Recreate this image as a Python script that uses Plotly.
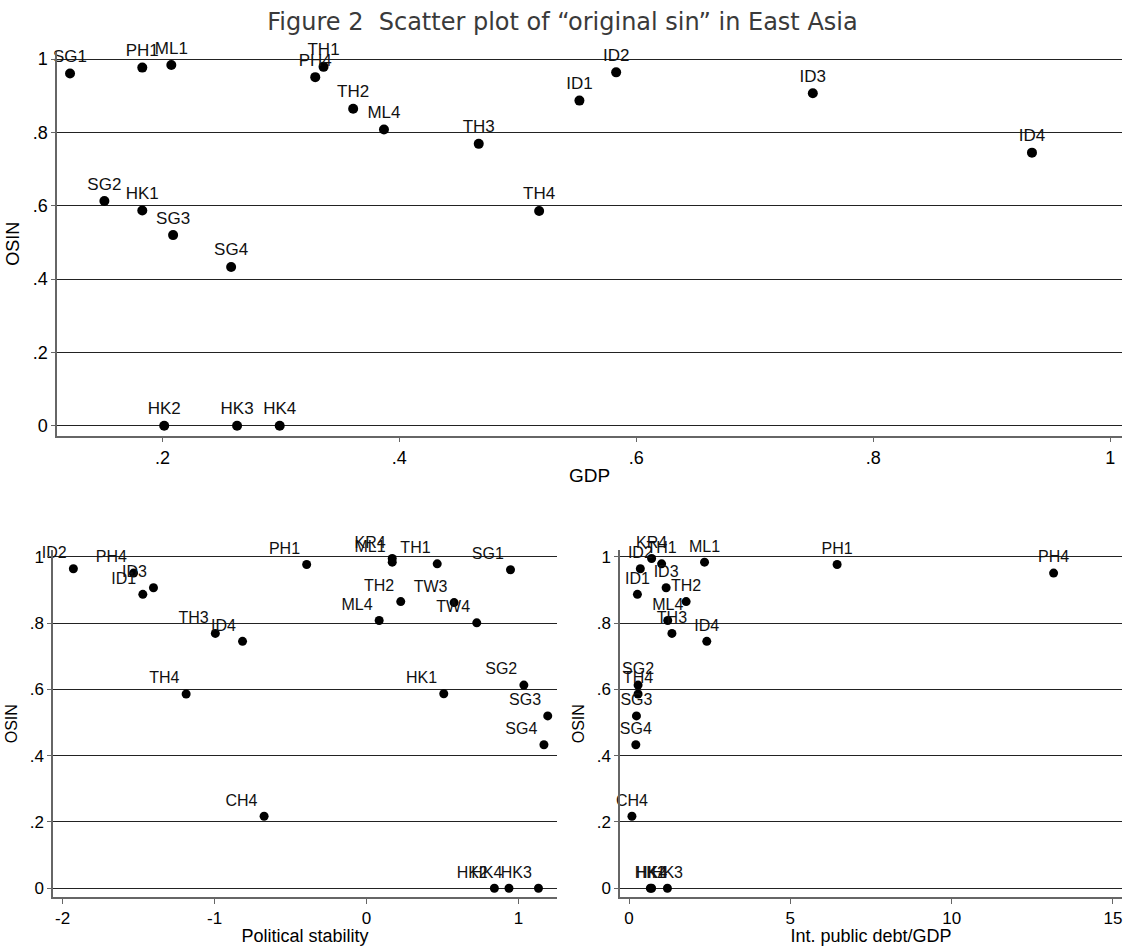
import plotly.graph_objects as go

# ---------------- data ----------------
codes = ["SG1", "SG2", "SG3", "SG4", "HK1", "HK2", "HK3", "HK4",
         "PH1", "PH4", "ML1", "ML4", "TH1", "TH2", "TH3", "TH4",
         "ID1", "ID2", "ID3", "ID4", "KR4", "TW3", "TW4", "CH4"]
osin = [0.961, 0.613, 0.520, 0.433, 0.587, 0.0, 0.0, 0.0,
        0.977, 0.951, 0.984, 0.808, 0.979, 0.865, 0.769, 0.586,
        0.887, 0.964, 0.907, 0.745, 0.995, 0.862, 0.801, 0.217]
gdp = [0.122, 0.151, 0.209, 0.258, 0.183, 0.2015, 0.263, 0.299,
       0.183, 0.329, 0.2075, 0.387, 0.336, 0.361, 0.467, 0.518,
       0.552, 0.583, 0.749, 0.934, None, None, None, None]
polstab = [0.947, 1.035, 1.192, 1.167, 0.508, 0.841, 1.131, 0.937,
           -0.394, -1.533, 0.169, 0.083, 0.465, 0.225, -0.995, -1.187,
           -1.472, -1.929, -1.402, -0.816, 0.169, 0.576, 0.725, -0.674]
debt = [None, 0.28, 0.23, 0.21, None, 0.66, 1.19, 0.70,
        6.45, 13.16, 2.34, 1.20, 1.01, 1.77, 1.33, 0.28,
        0.26, 0.35, 1.15, 2.41, 0.70, None, None, 0.09]

y_ticks = [0, 0.2, 0.4, 0.6, 0.8, 1.0]
y_ticktext = ["0", ".2", ".4", ".6", ".8", "1"]
gdp_ticks = [0.2, 0.4, 0.6, 0.8, 1.0]
gdp_ticktext = [".2", ".4", ".6", ".8", "1"]
ps_ticks = [-2, -1, 0, 1]
ps_ticktext = ["-2", "-1", "0", "1"]
debt_ticks = [0, 5, 10, 15]
debt_ticktext = ["0", "5", "10", "15"]

title_text = "Figure 2  Scatter plot of \u201coriginal sin\u201d in East Asia"


def subset(xvals):
    xs, ys, ts = [], [], []
    for c, o, x in zip(codes, osin, xvals):
        if x is not None:
            xs.append(x)
            ys.append(o)
            ts.append(c)
    return xs, ys, ts


FONT = "Liberation Sans"
fig = go.Figure()

panels = [
    (gdp, "x", "y", "top center", 10, 17),
    (polstab, "x2", "y2", "top left", 9, 16),
    (debt, "x3", "y3", "top center", 9, 16),
]
for xv, xa, ya, pos, msize, fsize in panels:
    xs, ys, ts = subset(xv)
    fig.add_trace(go.Scatter(
        x=xs, y=ys, text=ts, mode="markers+text", xaxis=xa, yaxis=ya,
        textposition=pos, cliponaxis=False,
        marker=dict(color="black", size=msize),
        textfont=dict(family=FONT, size=fsize, color="#111"),
        showlegend=False, hoverinfo="skip"))

AXCOL = "#666"
GRIDCOL = "#222"


def yaxis_def(domain, anchor, tsize, ttsize):
    return dict(domain=domain, anchor=anchor, range=[-0.027, 1.02],
                tickvals=y_ticks, ticktext=y_ticktext, showgrid=True,
                gridcolor=GRIDCOL, gridwidth=1.3, zeroline=False,
                showline=True, linecolor=AXCOL, linewidth=1.5,
                ticks="outside", ticklen=4, tickcolor=AXCOL,
                tickfont=dict(family=FONT, size=tsize, color="black"),
                title=dict(text="OSIN", font=dict(family=FONT, size=ttsize, color="black"),
                           standoff=8))


def xaxis_def(domain, anchor, rng, tv, tt, title, tsize, ttsize):
    return dict(domain=domain, anchor=anchor, range=rng, tickvals=tv,
                ticktext=tt, showgrid=False, zeroline=False, showline=True,
                linecolor=AXCOL, linewidth=1.5, ticks="outside", ticklen=5,
                tickcolor=AXCOL,
                tickfont=dict(family=FONT, size=tsize, color="black"),
                title=dict(text=title, font=dict(family=FONT, size=ttsize, color="black"),
                           standoff=2))


W, H = 1125, 946
fig.update_layout(
    width=W, height=H, margin=dict(l=0, r=0, t=0, b=0),
    paper_bgcolor="white", plot_bgcolor="white",
    title=dict(text=title_text, x=0.5, xanchor="center", y=1 - 22 / H, yanchor="middle",
               font=dict(family="DejaVu Sans", size=24, color="#3a3a3a")),
    xaxis=xaxis_def([57 / W, 1122 / W], "y", [0.111, 1.010], gdp_ticks, gdp_ticktext,
                    "GDP", 18, 19),
    yaxis=yaxis_def([1 - 435 / H, 1 - 50 / H], "x", 18, 18),
    xaxis2=xaxis_def([53 / W, 557 / W], "y2", [-2.063, 1.253], ps_ticks, ps_ticktext,
                     "Political stability", 17, 18),
    yaxis2=yaxis_def([1 - 898 / H, 1 - 550 / H], "x2", 17, 16),
    xaxis3=xaxis_def([620 / W, 1122 / W], "y3", [-0.28, 15.28], debt_ticks, debt_ticktext,
                     "Int. public debt/GDP", 17, 18),
    yaxis3=yaxis_def([1 - 898 / H, 1 - 550 / H], "x3", 17, 16),
)

fig.write_html("out.html")
